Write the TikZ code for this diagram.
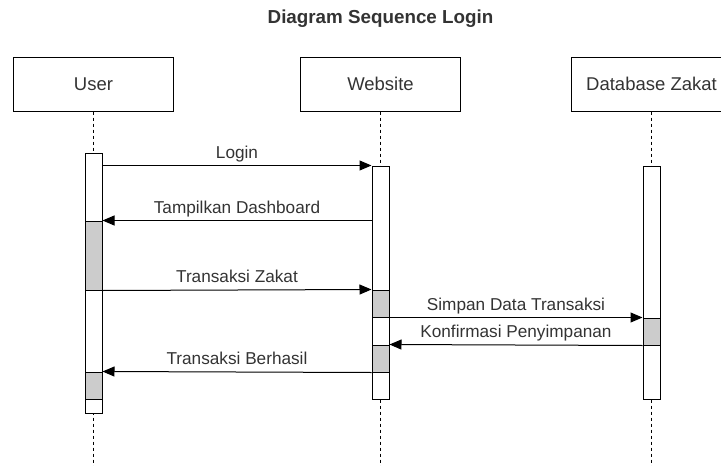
\documentclass[tikz,border=0pt]{standalone}
\usepackage{fontspec}
\setmainfont{Liberation Sans}
\usetikzlibrary{arrows.meta}
\tikzset{
  actor/.style={draw, line width=1pt, minimum width=160pt, minimum height=54pt,
    font=\fontsize{18.5}{21}\selectfont, text=black!80},
  bar/.style={draw, fill=white, line width=1pt, minimum width=17pt, inner sep=0pt},
  busy/.style={draw, fill=black!20, line width=1pt, minimum width=17pt, inner sep=0pt},
  life/.style={line width=1pt, dash pattern=on 3pt off 3pt},
  msg/.style={line width=1pt, -{Triangle[length=12pt,width=10pt]}},
  lbl/.style={above=3.5pt, inner sep=0pt, text depth=3.5pt,
    font=\fontsize{17.2}{19}\selectfont, text=black!80}
}

\begin{document}
\begin{tikzpicture}[x=1pt, y=-1pt]
	\useasboundingbox (0,0) rectangle (721,466);
	\node [font=\bfseries\fontsize{18.8}{21}\selectfont, text=black!80] (title) at (380.5, 19) {Diagram Sequence Login};
	% actors
	\node [actor] (0) at (93.5, 84) {User};
	\node [actor] (1) at (380.5, 84) {Website};
	\node [actor] (2) at (651.5, 84) {Database Zakat};
	\coordinate (3) at (93.5, 466);
	\coordinate (4) at (380.5, 466);
	\coordinate (5) at (651.5, 466);
	% lifelines
	\draw [life] (0) -- (3);
	\draw [life] (1) -- (4);
	\draw [life] (2) -- (5);
	% activation bars
	\node [bar, minimum height=260pt] (6) at (93.5, 283) {};
	\node [bar, minimum height=233pt] (7) at (380.5, 282.5) {};
	\node [bar, minimum height=233pt] (8) at (651.5, 282.5) {};
	\node [busy, minimum height=69pt] (9) at (93.5, 255.5) {};
	\node [busy, minimum height=27pt] (10) at (93.5, 385.5) {};
	\node [busy, minimum height=27pt] (11) at (380.5, 303.5) {};
	\node [busy, minimum height=27pt] (12) at (380.5, 358.5) {};
	\node [busy, minimum height=27pt] (13) at (651.5, 331.5) {};
	% messages
	\draw [msg] (6.east |- 7.north) -- node [lbl] {Login} (7.north west);
	\draw [msg] (7.west |- 9.north) -- node [lbl] {Tampilkan Dashboard} (9.north east);
	\draw [msg] (9.south east) -- node [lbl] {Transaksi Zakat} (11.north west);
	\draw [msg] (11.south east) -- node [lbl] {Simpan Data Transaksi} (13.north west);
	\draw [msg] (13.south west) -- node [lbl] {Konfirmasi Penyimpanan} (12.north east);
	\draw [msg] (12.south west) -- node [lbl] {Transaksi Berhasil} (10.north east);
\end{tikzpicture}
\end{document}
